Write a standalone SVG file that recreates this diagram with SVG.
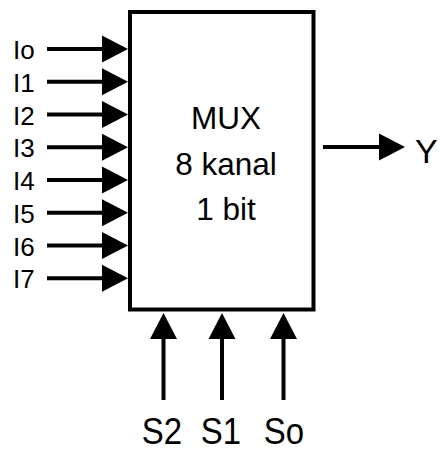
<svg xmlns="http://www.w3.org/2000/svg" width="441" height="450" viewBox="0 0 441 450">
<style>
text{font-family:"Liberation Sans",Arial,sans-serif;fill:#000}
.lbl{font-size:26px}
.c{font-size:31.5px;text-anchor:middle}
.s{font-size:33px;text-anchor:middle}
.w{stroke:#000;stroke-width:4;fill:none}
</style>
<defs>
<path id="hr" d="M0,0 L-26,-13.5 L-26,13.5 Z" fill="#000"/>
</defs>
<rect width="441" height="450" fill="#fff"/>
<g id="mux">
<rect x="130" y="12" width="183.5" height="297.5" fill="#fff" stroke="#000" stroke-width="4"/>
<text class="c" x="226" y="128.5">MUX</text>
<text class="c" x="226" y="174.5">8 kanal</text>
<text class="c" x="226" y="220">1 bit</text>
</g>
<g id="labels">
<text class="lbl" x="13" y="59">Io</text>
<text class="lbl" x="13" y="91.5">I1</text>
<text class="lbl" x="13" y="124.5">I2</text>
<text class="lbl" x="13" y="157">I3</text>
<text class="lbl" x="13" y="190">I4</text>
<text class="lbl" x="13" y="222.5">I5</text>
<text class="lbl" x="13" y="255.5">I6</text>
<text class="lbl" x="13" y="288">I7</text>
<text x="415" y="163" style="font-size:34px">Y</text>
<text class="s" transform="translate(162,443.5) scale(1,1.12)">S2</text>
<text class="s" transform="translate(221,443.5) scale(1,1.12)">S1</text>
<text class="s" transform="translate(284,443.5) scale(1,1.12)">So</text>
</g>
<g id="connectors">
<g id="in0"><line class="w" x1="47" y1="49" x2="103" y2="49"/><use href="#hr" x="128" y="49"/></g>
<g id="in1"><line class="w" x1="47" y1="81.75" x2="103" y2="81.75"/><use href="#hr" x="128" y="81.75"/></g>
<g id="in2"><line class="w" x1="47" y1="114.5" x2="103" y2="114.5"/><use href="#hr" x="128" y="114.5"/></g>
<g id="in3"><line class="w" x1="47" y1="147.25" x2="103" y2="147.25"/><use href="#hr" x="128" y="147.25"/></g>
<g id="in4"><line class="w" x1="47" y1="180" x2="103" y2="180"/><use href="#hr" x="128" y="180"/></g>
<g id="in5"><line class="w" x1="47" y1="212.75" x2="103" y2="212.75"/><use href="#hr" x="128" y="212.75"/></g>
<g id="in6"><line class="w" x1="47" y1="245.5" x2="103" y2="245.5"/><use href="#hr" x="128" y="245.5"/></g>
<g id="in7"><line class="w" x1="47" y1="278.25" x2="103" y2="278.25"/><use href="#hr" x="128" y="278.25"/></g>
<g id="out"><line class="w" x1="323" y1="147" x2="382" y2="147"/><use href="#hr" x="405" y="147"/></g>
<g id="s2"><line class="w" x1="163.5" y1="400" x2="163.5" y2="338"/><use href="#hr" transform="translate(163.5,313) rotate(-90)"/></g>
<g id="s1"><line class="w" x1="222" y1="400" x2="222" y2="338"/><use href="#hr" transform="translate(222,313) rotate(-90)"/></g>
<g id="s0"><line class="w" x1="283.5" y1="400" x2="283.5" y2="338"/><use href="#hr" transform="translate(283.5,313) rotate(-90)"/></g>
</g>
</svg>
